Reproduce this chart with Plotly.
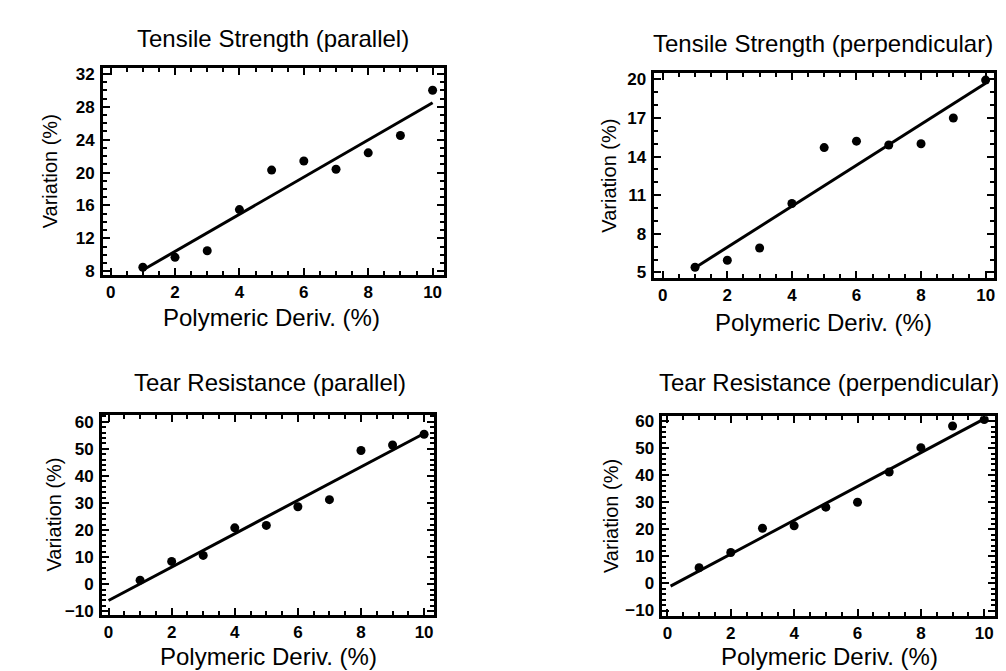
import numpy as np
import plotly.graph_objects as go

W, H = 1006, 671

# ---------------- data ----------------
deriv = [1, 2, 3, 4, 5, 6, 7, 8, 9, 10]

tensile_parallel = [8.5, 9.7, 10.5, 15.5, 20.3, 21.4, 20.4, 22.4, 24.5, 30.0]
tensile_perpendicular = [5.4, 5.95, 6.9, 10.36, 14.7, 15.2, 14.9, 15.0, 17.0, 19.95]
tear_parallel = [1.45, 8.4, 10.6, 20.8, 21.7, 28.6, 31.2, 49.4, 51.4, 55.4]
tear_perpendicular = [5.8, 11.45, 20.4, 21.3, 28.2, 30.0, 41.2, 50.2, 58.2, 60.6]

titles = ["Tensile Strength (parallel)", "Tensile Strength (perpendicular)",
          "Tear Resistance (parallel)", "Tear Resistance (perpendicular)"]
x_title = "Polymeric Deriv. (%)"
y_title = "Variation (%)"

x_ticks = [0, 2, 4, 6, 8, 10]
y_ticks = [
    [8, 12, 16, 20, 24, 28, 32],
    [5, 8, 11, 14, 17, 20],
    [-10, 0, 10, 20, 30, 40, 50, 60],
    [-10, 0, 10, 20, 30, 40, 50, 60],
]
y_minor = [1, 1, 2, 2]
fit_start = [1, 1, 0, 0.1]
fit_end = [10, 10, 10, 10]
series = [tensile_parallel, tensile_perpendicular, tear_parallel, tear_perpendicular]

# ---------------- layout geometry (pixels) ----------------
boxes = [  # x0, x1, y0(top), y1(bottom)
    (95, 436, 57, 267),
    (647, 987, 62, 270),
    (94, 426, 410, 613),
    (655, 988, 411, 614),
]
x_ranges = [[-0.24, 10.34], [-0.26, 10.26], [-0.21, 10.3], [-0.16, 10.34]]
y_ranges = [[7.6, 32.7], [4.6, 20.5], [-11.4, 62.4], [-12.0, 61.8]]
title_pos = [(265, 27), (816, 32), (262, 377), (822, 377)]
xtitle_pos = [(264, 311), (816, 316), (261, 655), (822, 655)]
ytitle_pos = [(42, 162), (602, 166), (46, 511), (603, 512)]

FONT = "Liberation Sans, Arial, Helvetica, sans-serif"


def px(x):
    return x / W


def py(y):
    return 1 - y / H


fig = go.Figure()
layout = dict(
    width=W, height=H,
    margin=dict(l=0, r=0, t=0, b=0),
    paper_bgcolor="white", plot_bgcolor="white",
    showlegend=False,
    font=dict(family=FONT, color="black"),
    annotations=[],
)

for i in range(4):
    xa = "x" if i == 0 else f"x{i+1}"
    ya = "y" if i == 0 else f"y{i+1}"
    xkey = "xaxis" if i == 0 else f"xaxis{i+1}"
    ykey = "yaxis" if i == 0 else f"yaxis{i+1}"
    x0, x1, yt, yb = boxes[i]

    vals = series[i]
    slope, intercept = np.polyfit(deriv, vals, 1)
    fx = [fit_start[i], fit_end[i]]
    fy = [slope * v + intercept for v in fx]

    fig.add_trace(go.Scatter(x=fx, y=fy, mode="lines", xaxis=xa, yaxis=ya,
                             line=dict(color="black", width=3), hoverinfo="skip"))
    fig.add_trace(go.Scatter(x=deriv, y=vals, mode="markers", xaxis=xa, yaxis=ya,
                             marker=dict(color="black", size=9)))

    common = dict(showline=True, linecolor="black", linewidth=2.5, mirror="allticks",
                  ticks="inside", ticklen=7, tickwidth=2, tickcolor="black",
                  showgrid=False, zeroline=False,
                  tickfont=dict(family=FONT, size=17, color="black", weight="bold"))
    layout[xkey] = dict(common, domain=[px(x0), px(x1)], anchor=ya,
                        range=x_ranges[i], tickvals=x_ticks,
                        minor=dict(ticks="inside", ticklen=4, tickwidth=1.5,
                                   tickcolor="black", dtick=0.5, tick0=0, showgrid=False))
    layout[ykey] = dict(common, domain=[py(yb), py(yt)], anchor=xa,
                        range=y_ranges[i], tickvals=y_ticks[i],
                        ticklabelstandoff=2,
                        minor=dict(ticks="inside", ticklen=4, tickwidth=1.5,
                                   tickcolor="black", dtick=y_minor[i], tick0=0,
                                   showgrid=False))

    tx, ty = title_pos[i]
    layout["annotations"].append(dict(text=titles[i], x=px(tx), y=py(ty), xref="paper",
                                      yref="paper", showarrow=False, xanchor="center",
                                      yanchor="middle", font=dict(size=24, family=FONT)))
    tx, ty = xtitle_pos[i]
    layout["annotations"].append(dict(text=x_title, x=px(tx), y=py(ty), xref="paper",
                                      yref="paper", showarrow=False, xanchor="center",
                                      yanchor="middle", font=dict(size=24, family=FONT)))
    tx, ty = ytitle_pos[i]
    layout["annotations"].append(dict(text=y_title, x=px(tx), y=py(ty), xref="paper",
                                      yref="paper", showarrow=False, xanchor="center",
                                      yanchor="middle", textangle=-90,
                                      font=dict(size=20, family=FONT)))

fig.update_layout(**layout)
fig.write_html("out.html")
